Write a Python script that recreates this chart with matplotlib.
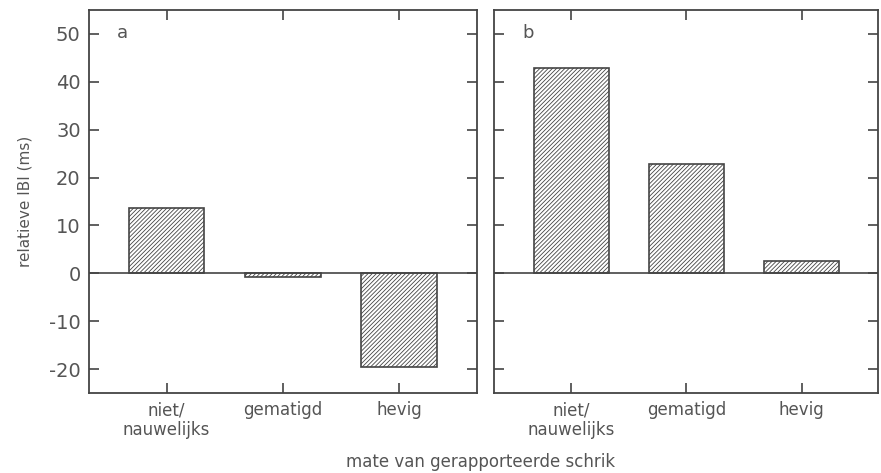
import numpy as np
import matplotlib
matplotlib.use('Agg')
from matplotlib import pyplot as plt

categories = ['niet/\nnauwelijks', 'gematigd', 'hevig']
values_a = [13.7, -0.8, -19.5]
values_b = [42.8, 22.9, 2.6]
panel_labels = ['a', 'b']
yticks = [-20, -10, 0, 10, 20, 30, 40, 50]

plt.rcParams['font.family'] = 'DejaVu Sans'
plt.rcParams['hatch.linewidth'] = 0.6
plt.rcParams['hatch.color'] = '#666666'

fig = plt.figure(figsize=(8.81, 4.73), dpi=100)
axa = fig.add_axes([0.101, 0.169, 0.44, 0.81])
axb = fig.add_axes([0.561, 0.169, 0.436, 0.81])

x = np.arange(1, len(categories) + 1)
grey = '#444444'

for ax, vals, lab in zip([axa, axb], [values_a, values_b], panel_labels):
    ax.bar(x, vals, width=0.65, color='white', edgecolor=grey,
           linewidth=1.2, hatch='////////', zorder=2)
    ax.axhline(0, color=grey, linewidth=1.2, zorder=3)
    ax.set_xlim(1 / 3, 3 + 2 / 3)
    ax.set_ylim(-25, 55)
    ax.set_xticks(x)
    ax.set_xticklabels(categories, fontsize=12, color='#555555', linespacing=1.1)
    ax.set_yticks(yticks)
    ax.tick_params(direction='in', length=7, width=1.2, color=grey,
                   top=True, right=True, pad=6)
    ax.text(0.072, 0.94, lab, transform=ax.transAxes, fontsize=13,
            color='#555555', va='center')
    for s in ax.spines.values():
        s.set_color(grey)
        s.set_linewidth(1.3)

axa.set_yticklabels([str(v) for v in yticks], fontsize=14, color='#555555')
axb.set_yticklabels([])
axa.set_ylabel('relatieve IBI (ms)', fontsize=11, color='#555555', labelpad=12)
fig.text(0.545, 0.012, 'mate van gerapporteerde schrik', ha='center',
         fontsize=12, color='#555555')

plt.savefig('out.png', dpi=100)
